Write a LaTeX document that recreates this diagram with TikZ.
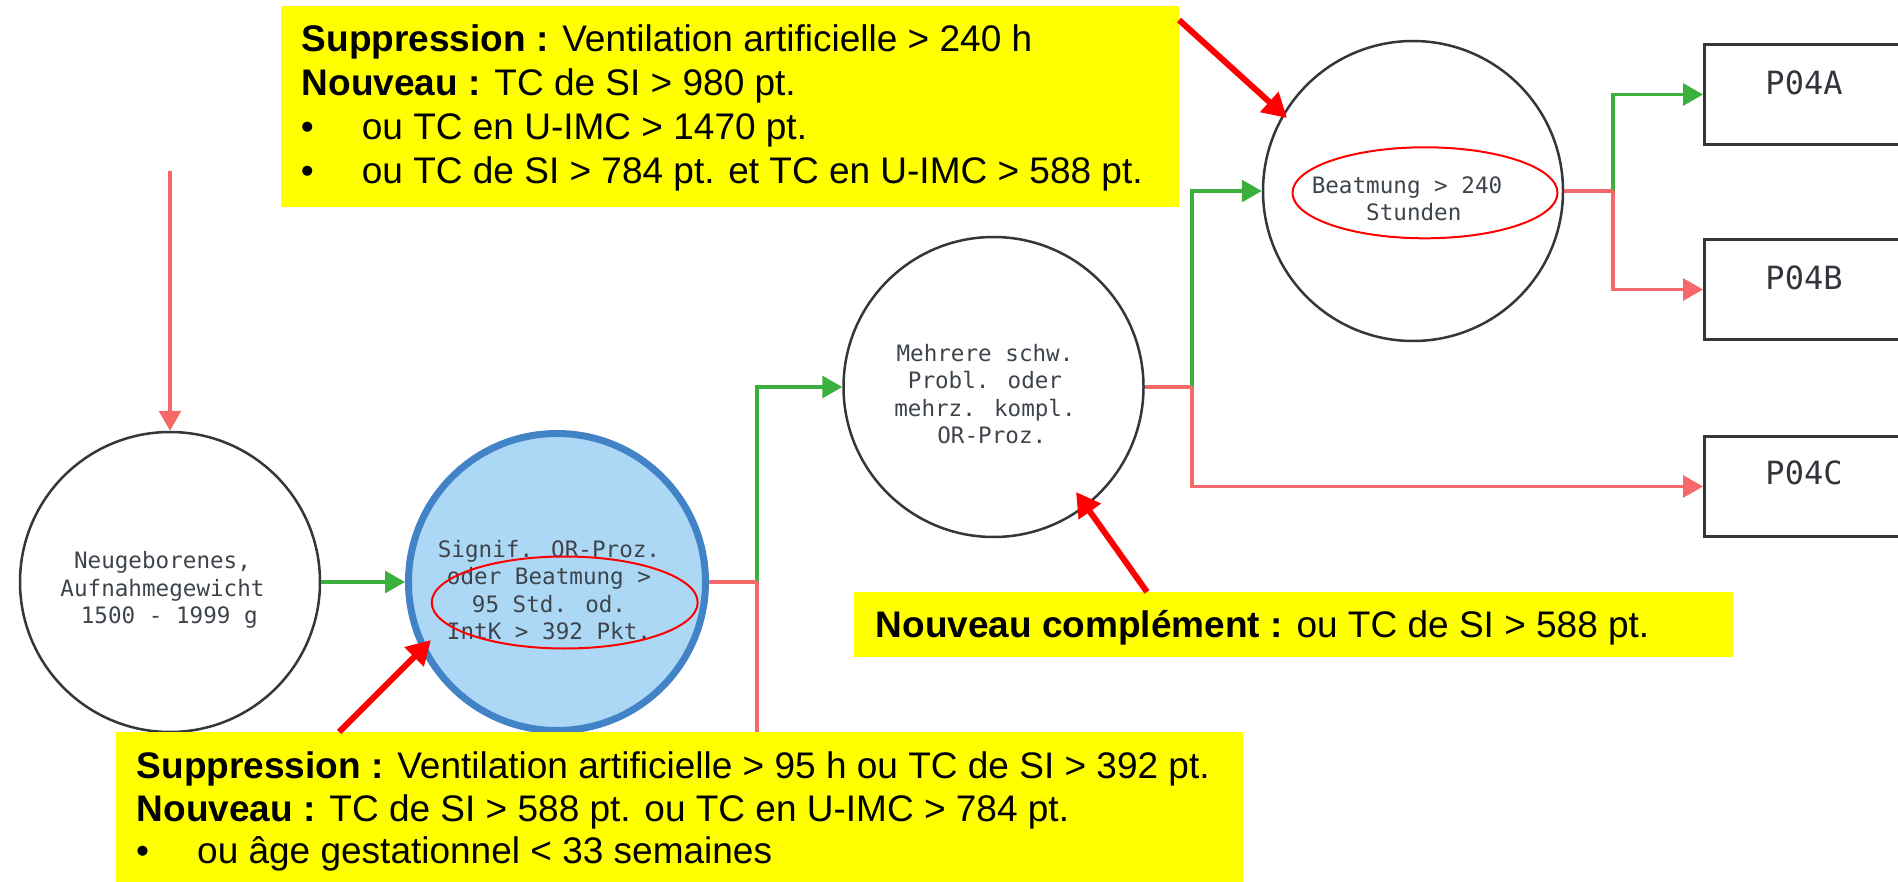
\documentclass[tikz,border=0pt]{standalone}
\usepackage{fontspec}
\setmainfont{Liberation Sans}
\newfontfamily\monofont{DejaVu Sans Mono}
\usetikzlibrary{arrows.meta,shapes.geometric}
\definecolor{lnred}{RGB}{245,105,105}
\definecolor{lngreen}{RGB}{60,176,60}
\definecolor{circgray}{RGB}{50,55,60}
\definecolor{txtgray}{RGB}{62,68,75}
\definecolor{hlblue}{RGB}{172,216,246}
\definecolor{hlbluedraw}{RGB}{66,130,198}
\definecolor{boxyellow}{RGB}{255,255,0}
\definecolor{annred}{RGB}{255,0,0}
\begin{document}
\begin{tikzpicture}[x=1pt,y=-1pt,
  circ/.style={circle, draw=circgray, line width=2.5pt, minimum size=300pt, inner sep=0pt},
  ctext/.style={font=\monofont\fontsize{22.6}{27.5}\selectfont, text=txtgray, align=center, inner sep=0pt},
  codebox/.style={rectangle, draw=circgray, line width=3pt, minimum width=200pt, minimum height=100pt, inner sep=0pt, anchor=north west},
  codetext/.style={font=\monofont\fontsize{32}{36}\selectfont, text=txtgray!80!black, inner sep=0pt},
  tip/.style={-{Triangle[length=20pt,width=22pt]}},
  redline/.style={draw=lnred, line width=3.2pt},
  greenline/.style={draw=lngreen, line width=3.2pt},
  hilite/.style={ellipse, draw=annred, line width=2pt, inner sep=0pt},
  ybox/.style={rectangle, fill=boxyellow, inner sep=0pt, anchor=north west},
  btext/.style={font=\fontsize{37}{44}\selectfont, anchor=base west, inner sep=0pt},
  annarrow/.style={draw=annred, line width=6pt, -{Triangle[length=24pt,width=26pt]}}
]
\useasboundingbox (0,0) rectangle (1898,882);
\clip (0,0) rectangle (1898,882);

% nodes
\node[circ] (e1) at (170,582) {};
\node[circ, fill=hlblue, draw=hlbluedraw, line width=7pt, minimum size=297pt] (e2) at (557,582) {};
\node[circ] (e3) at (993.5,387) {};
\node[circ] (e4) at (1413,191) {};
\node[codebox] (p4a) at (1703,43) {};
\node[codebox] (p4b) at (1703,238) {};
\node[codebox] (p4c) at (1703,435) {};

\node[ctext] (e1t) at (162.5,590) {Neugeborenes,\\Aufnahmegewicht\\ \ 1500 - 1999 g};
\node[ctext] (e2t) at (549,590) {Signif. OR-Proz.\\oder Beatmung >\\95 Std. od.\\IntK > 392 Pkt.};
\node[ctext] (e3t) at (985,394) {Mehrere schw.\\Probl. oder\\mehrz. kompl.\\ \ OR-Proz.};
\node[ctext] (e4t) at (1407,199) {Beatmung > 240\\ \ Stunden};
\node[codetext] (p4at) at (1804,83) {P04A};
\node[codetext] (p4bt) at (1804,278) {P04B};
\node[codetext] (p4ct) at (1804,473) {P04C};

\node[hilite, minimum width=266pt, minimum height=92pt] (hl2) at (564.7,602.5) {};
\node[hilite, minimum width=265pt, minimum height=91pt] (hl4) at (1425,192.8) {};

% connectors
\coordinate (top) at (170,171);
\coordinate (b1) at (757,582);
\coordinate (b1end) at (757,882);
\coordinate (b2) at (1192,387);
\coordinate (b3) at (1613,191);

\draw[redline, tip] (top) -- (e1.north);
\draw[greenline, tip] (e1.east) -- (e2.west);
\draw[greenline, tip] (b1) |- (e3.west);
\draw[redline] (b1) -- (b1end);
\draw[redline] (e2.east) -- (b1);
\draw[greenline, tip] (b2) |- (e4.west);
\draw[redline, tip] (b2) |- (p4c.west);
\draw[redline] (e3.east) -- (b2);
\draw[greenline, tip] (b3) |- (p4a.west);
\draw[redline, tip] (b3) |- (p4b.west);
\draw[redline] (e4.east) -- (b3);

% yellow boxes
\node[ybox, minimum width=898pt, minimum height=201pt] (yb1) at (281,6) {};
\node[ybox, minimum width=1127pt, minimum height=150pt] (yb2) at (116,732) {};
\node[ybox, minimum width=879pt, minimum height=65pt] (yb3) at (854,592) {};

\node[btext] (t11) at (301.7,51.7) {\textbf{Suppression :} Ventilation artificielle > 240 h};
\node[btext] (t12) at (301.7,96) {\textbf{Nouveau :} TC de SI > 980 pt.};
\node[btext] (t13b) at (300.7,140) {•};
\node[btext] (t13) at (361.7,140) {ou TC en U-IMC > 1470 pt.};
\node[btext] (t14b) at (300.7,184) {•};
\node[btext] (t14) at (361.7,184) {ou TC de SI > 784 pt. et TC en U-IMC > 588 pt.};

\node[btext] (t21) at (136.7,778.3) {\textbf{Suppression :} Ventilation artificielle > 95 h ou TC de SI > 392 pt.};
\node[btext] (t22) at (136.7,821.5) {\textbf{Nouveau :} TC de SI > 588 pt. ou TC en U-IMC > 784 pt.};
\node[btext] (t23b) at (136,863.3) {•};
\node[btext] (t23) at (197,863.3) {ou âge gestationnel < 33 semaines};

\node[btext] (t31) at (875.6,637) {\textbf{Nouveau complément :} ou TC de SI > 588 pt.};

% annotation arrows
\coordinate (a1s) at (1179,20);
\coordinate (a1e) at (1287,118);
\coordinate (a2s) at (1147,592);
\coordinate (a2e) at (1076,492);
\coordinate (a3s) at (339,732);
\coordinate (a3e) at (431,640);
\draw[annarrow] (a1s) -- (a1e);
\draw[annarrow] (a2s) -- (a2e);
\draw[annarrow] (a3s) -- (a3e);
\end{tikzpicture}
\end{document}
